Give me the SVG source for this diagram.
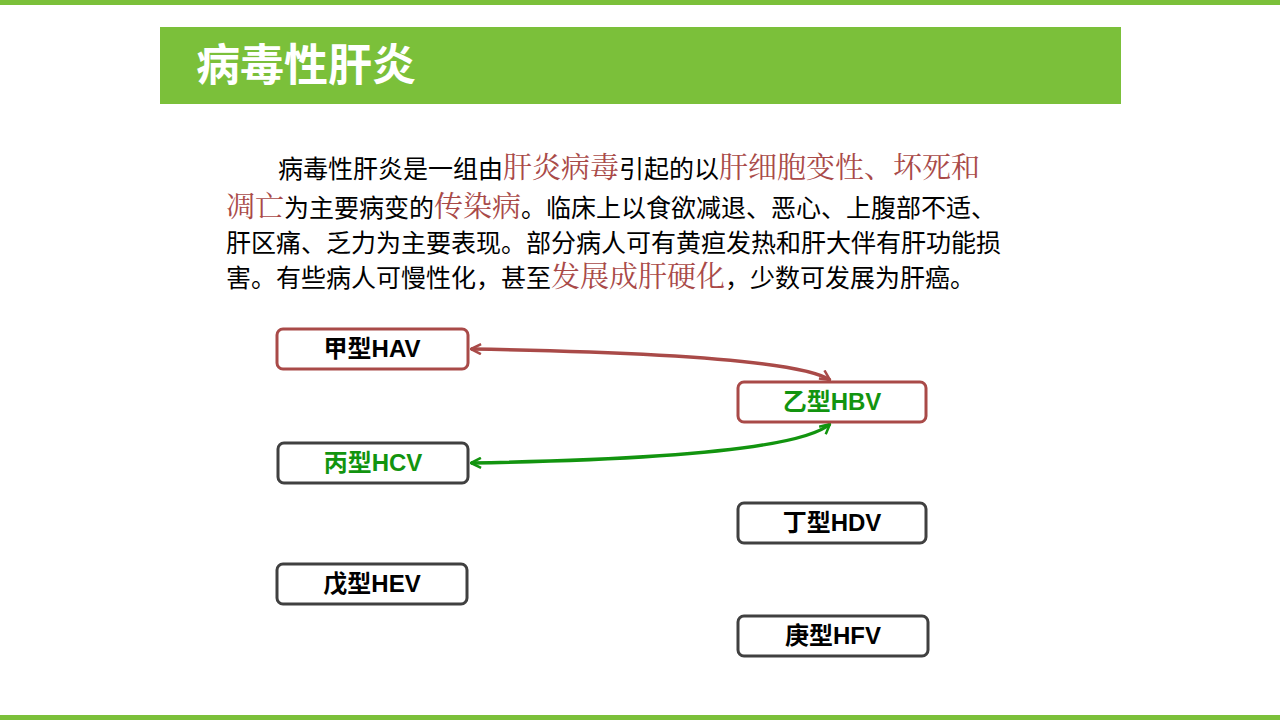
<svg xmlns="http://www.w3.org/2000/svg" width="1280" height="720" viewBox="0 0 1280 720">
<style>
.box{fill:#fff;stroke-width:3}
.lbl{font-family:"Liberation Sans","Noto Sans CJK SC",sans-serif;font-weight:bold;font-size:24px;text-anchor:middle}
.p{font-family:"Liberation Sans","Noto Sans CJK SC",sans-serif;font-size:25px;fill:#000}
.r{fill:#a94a48;font-family:"Liberation Serif","Noto Serif CJK SC","Noto Sans CJK SC",serif;font-size:29px}
</style>
<defs>
<marker id="mr" viewBox="0 0 12 12" refX="11" refY="6" markerWidth="12" markerHeight="12" markerUnits="userSpaceOnUse" orient="auto-start-reverse"><path d="M1,1 L11,6 L1,11" fill="none" stroke="#a94a48" stroke-width="2.5"/></marker>
<marker id="mg" viewBox="0 0 12 12" refX="11" refY="6" markerWidth="12" markerHeight="12" markerUnits="userSpaceOnUse" orient="auto-start-reverse"><path d="M1,1 L11,6 L1,11" fill="none" stroke="#12940f" stroke-width="2.5"/></marker>
</defs>
<rect width="1280" height="720" fill="#fff"/>
<rect x="0" y="0" width="1280" height="5" fill="#7bc03a"/>
<rect x="0" y="715" width="1280" height="5" fill="#7bc03a"/>
<rect x="160" y="27" width="961" height="77" fill="#7bc03a"/>
<text x="196" y="81" font-family="Liberation Sans,Noto Sans CJK SC,sans-serif" font-weight="bold" font-size="44" fill="#fff">病毒性肝炎</text>
<text class="p" x="278" y="178">病毒性肝炎是一组由<tspan class="r">肝炎病毒</tspan>引起的以<tspan class="r">肝细胞变性、坏死和</tspan></text>
<text class="p" x="226" y="217"><tspan class="r">凋亡</tspan>为主要病变的<tspan class="r">传染病</tspan>。临床上以食欲减退、恶心、上腹部不适、</text>
<text class="p" x="226" y="252">肝区痛、乏力为主要表现。部分病人可有黄疸发热和肝大伴有肝功能损</text>
<text class="p" x="226" y="287">害。有些病人可慢性化，甚至<tspan class="r">发展成肝硬化</tspan>，少数可发展为肝癌。</text>
<g id="connectors" fill="none" stroke-width="3.5">
<path d="M471,349 C650,352 800,360 830,380" stroke="#a94a48" marker-start="url(#mr)" marker-end="url(#mr)"/>
<path d="M471,463 C650,460 800,450 830,424" stroke="#12940f" marker-start="url(#mg)" marker-end="url(#mg)"/>
</g>
<g id="hav"><rect class="box" x="277" y="329" width="191" height="40" rx="6" stroke="#a94a48"/><text class="lbl" x="372" y="357" fill="#000">甲型HAV</text></g>
<g id="hbv"><rect class="box" x="738" y="382" width="188" height="40" rx="6" stroke="#a94a48"/><text class="lbl" x="832" y="410" fill="#12940f">乙型HBV</text></g>
<g id="hcv"><rect class="box" x="278" y="443" width="190" height="40" rx="6" stroke="#404040"/><text class="lbl" x="373" y="471" fill="#12940f">丙型HCV</text></g>
<g id="hdv"><rect class="box" x="738" y="503" width="188" height="40" rx="6" stroke="#404040"/><text class="lbl" x="832" y="531" fill="#000">丁型HDV</text></g>
<g id="hev"><rect class="box" x="277" y="564" width="190" height="40" rx="6" stroke="#404040"/><text class="lbl" x="372" y="592" fill="#000">戊型HEV</text></g>
<g id="hfv"><rect class="box" x="738" y="616" width="190" height="40" rx="6" stroke="#404040"/><text class="lbl" x="833" y="644" fill="#000">庚型HFV</text></g>
</svg>
